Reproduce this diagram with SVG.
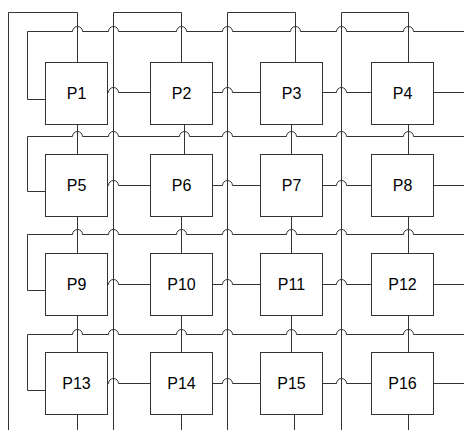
<svg xmlns="http://www.w3.org/2000/svg" width="464" height="430" viewBox="0 0 464 430">
<style>
.c{fill:none;stroke:#333;stroke-width:1}
.n rect{fill:#fff;stroke:#333;stroke-width:1}
.n text{font-family:"Liberation Sans",Arial,sans-serif;font-size:16px;fill:#000;text-anchor:middle}
</style>
<rect width="464" height="430" fill="#fff"/>
<g id="connectors" class="c">
<path d="M8.5 430V12.5H77.5V62.5"/>
<path d="M113.5 430V12.5H181.5V62.5"/>
<path d="M227.5 430V12.5H295.5V62.5"/>
<path d="M341.5 430V12.5H408.5V62.5"/>
<path d="M77.5 124.5V154.5M77.5 216.5V253.5M77.5 315.5V352.5M77.5 414.5V430"/>
<path d="M184.5 124.5V154.5M181.5 216.5V253.5M181.5 315.5V352.5M181.5 414.5V430"/>
<path d="M291.5 124.5V154.5M291.5 216.5V253.5M291.5 315.5V352.5M294.5 414.5V430"/>
<path d="M408.5 124.5V154.5M408.5 216.5V253.5M408.5 315.5V352.5M408.5 414.5V430"/>
<path d="M45.5 99.5H27.5V31.5H72.5a5 5 0 0 1 10 0H108.5a5 5 0 0 1 10 0H176.5a5 5 0 0 1 10 0H222.5a5 5 0 0 1 10 0H290.5a5 5 0 0 1 10 0H336.5a5 5 0 0 1 10 0H403.5a5 5 0 0 1 10 0H464"/>
<path d="M45.5 191.5H27.5V136.5H72.5a5 5 0 0 1 10 0H108.5a5 5 0 0 1 10 0H179.5a5 5 0 0 1 10 0H222.5a5 5 0 0 1 10 0H286.5a5 5 0 0 1 10 0H336.5a5 5 0 0 1 10 0H403.5a5 5 0 0 1 10 0H464"/>
<path d="M45.5 290.5H27.5V234.5H72.5a5 5 0 0 1 10 0H108.5a5 5 0 0 1 10 0H176.5a5 5 0 0 1 10 0H222.5a5 5 0 0 1 10 0H286.5a5 5 0 0 1 10 0H336.5a5 5 0 0 1 10 0H403.5a5 5 0 0 1 10 0H464"/>
<path d="M45.5 390.5H27.5V334.5H72.5a5 5 0 0 1 10 0H108.5a5 5 0 0 1 10 0H176.5a5 5 0 0 1 10 0H222.5a5 5 0 0 1 10 0H286.5a5 5 0 0 1 10 0H336.5a5 5 0 0 1 10 0H403.5a5 5 0 0 1 10 0H464"/>
<path d="M107.5 92.5H108.5a5 5 0 0 1 10 0H150.5M212.5 92.5H222.5a5 5 0 0 1 10 0H260.5M322.5 92.5H336.5a5 5 0 0 1 10 0H371.5M433.5 92.5H464"/>
<path d="M107.5 185.5H108.5a5 5 0 0 1 10 0H150.5M212.5 185.5H222.5a5 5 0 0 1 10 0H260.5M322.5 185.5H336.5a5 5 0 0 1 10 0H371.5M433.5 185.5H464"/>
<path d="M107.5 284.5H108.5a5 5 0 0 1 10 0H150.5M212.5 284.5H222.5a5 5 0 0 1 10 0H260.5M322.5 284.5H336.5a5 5 0 0 1 10 0H371.5M433.5 284.5H464"/>
<path d="M107.5 383.5H108.5a5 5 0 0 1 10 0H150.5M212.5 383.5H222.5a5 5 0 0 1 10 0H260.5M322.5 383.5H336.5a5 5 0 0 1 10 0H371.5M433.5 383.5H464"/>
</g>
<g id="P1" class="n"><rect x="45.5" y="62.5" width="62" height="62"/><text x="76.5" y="99">P1</text></g>
<g id="P2" class="n"><rect x="150.5" y="62.5" width="62" height="62"/><text x="181.5" y="99">P2</text></g>
<g id="P3" class="n"><rect x="260.5" y="62.5" width="62" height="62"/><text x="291.5" y="99">P3</text></g>
<g id="P4" class="n"><rect x="371.5" y="62.5" width="62" height="62"/><text x="402.5" y="99">P4</text></g>
<g id="P5" class="n"><rect x="45.5" y="154.5" width="62" height="62"/><text x="76.5" y="191">P5</text></g>
<g id="P6" class="n"><rect x="150.5" y="154.5" width="62" height="62"/><text x="181.5" y="191">P6</text></g>
<g id="P7" class="n"><rect x="260.5" y="154.5" width="62" height="62"/><text x="291.5" y="191">P7</text></g>
<g id="P8" class="n"><rect x="371.5" y="154.5" width="62" height="62"/><text x="402.5" y="191">P8</text></g>
<g id="P9" class="n"><rect x="45.5" y="253.5" width="62" height="62"/><text x="76.5" y="290">P9</text></g>
<g id="P10" class="n"><rect x="150.5" y="253.5" width="62" height="62"/><text x="181.5" y="290">P10</text></g>
<g id="P11" class="n"><rect x="260.5" y="253.5" width="62" height="62"/><text x="291.5" y="290">P11</text></g>
<g id="P12" class="n"><rect x="371.5" y="253.5" width="62" height="62"/><text x="402.5" y="290">P12</text></g>
<g id="P13" class="n"><rect x="45.5" y="352.5" width="62" height="62"/><text x="76.5" y="389">P13</text></g>
<g id="P14" class="n"><rect x="150.5" y="352.5" width="62" height="62"/><text x="181.5" y="389">P14</text></g>
<g id="P15" class="n"><rect x="260.5" y="352.5" width="62" height="62"/><text x="291.5" y="389">P15</text></g>
<g id="P16" class="n"><rect x="371.5" y="352.5" width="62" height="62"/><text x="402.5" y="389">P16</text></g>
</svg>
